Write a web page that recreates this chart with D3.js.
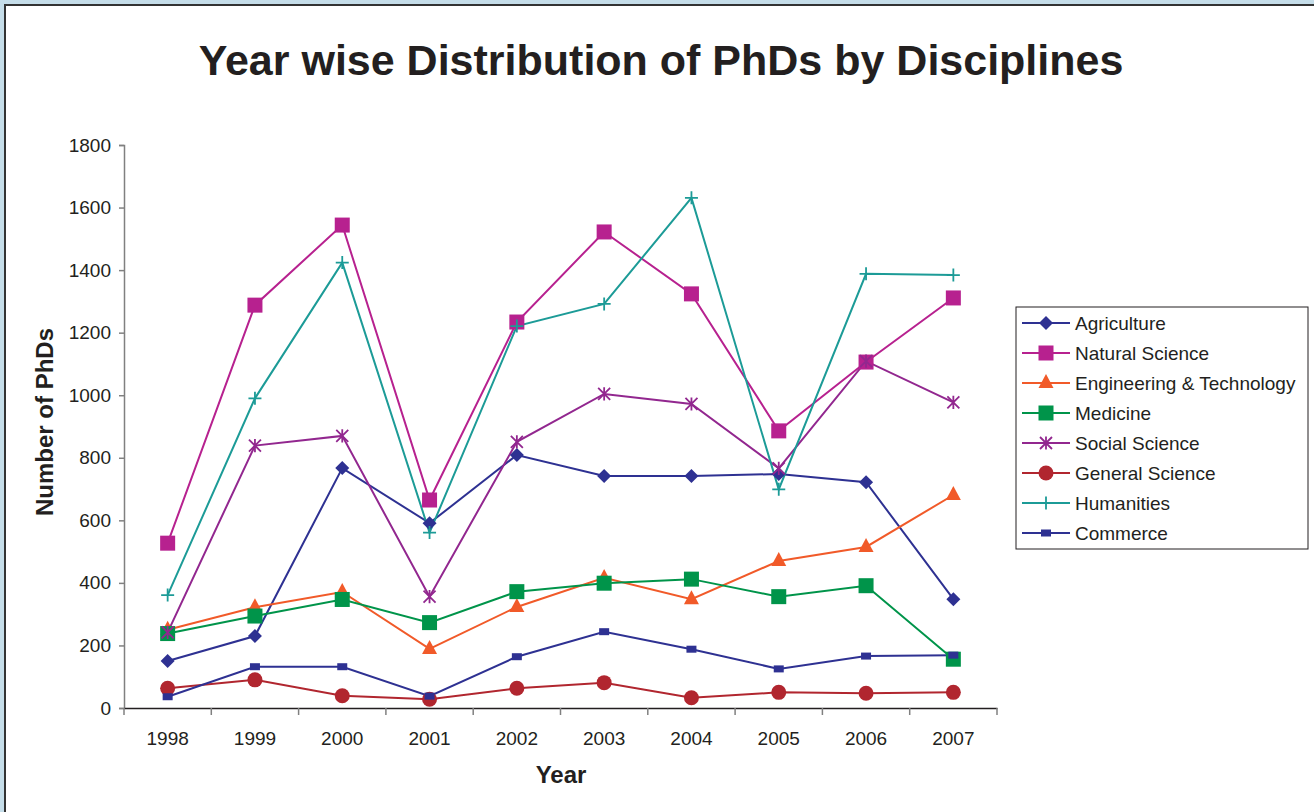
<!DOCTYPE html>
<html><head><meta charset="utf-8">
<script src="https://cdn.jsdelivr.net/npm/d3@7/dist/d3.min.js"></script>
<style>
html,body{margin:0;padding:0;background:#c5dde9;}
svg{display:block;font-family:"Liberation Sans",Arial,sans-serif;}
</style></head>
<body><svg id="c" width="1314" height="812"></svg>
<script>
const years = ["1998","1999","2000","2001","2002","2003","2004","2005","2006","2007"];
const yTicks = [0,200,400,600,800,1000,1200,1400,1600,1800];
const agriculture    = [150,230,767,591,809,742,742,748,722,348];
const naturalScience = [527,1288,1544,665,1234,1522,1324,886,1106,1311];
const engineering    = [250,322,371,189,323,416,348,470,515,681];
const medicine       = [238,294,347,273,372,399,412,356,391,156];
const socialScience  = [242,839,870,356,851,1004,972,766,1109,977];
const generalScience = [63,90,39,28,63,81,33,50,47,50];
const humanities     = [361,990,1424,561,1221,1292,1631,699,1388,1384];
const commerce       = [36,132,132,38,164,244,188,125,166,169];
const seriesNames = ["Agriculture","Natural Science","Engineering & Technology","Medicine","Social Science","General Science","Humanities","Commerce"];

const series = [
  {name:seriesNames[0], values:agriculture,    color:"#2e3192", marker:"diamond"},
  {name:seriesNames[1], values:naturalScience, color:"#b7218f", marker:"square"},
  {name:seriesNames[2], values:engineering,    color:"#f15a29", marker:"triangle"},
  {name:seriesNames[3], values:medicine,       color:"#00944a", marker:"square"},
  {name:seriesNames[4], values:socialScience,  color:"#92278f", marker:"star"},
  {name:seriesNames[5], values:generalScience, color:"#b1262f", marker:"circle"},
  {name:seriesNames[6], values:humanities,     color:"#1c9b97", marker:"plus"},
  {name:seriesNames[7], values:commerce,       color:"#2e3192", marker:"rect"}
];

const svg = d3.select("#c");
// white panel with border
svg.append("rect").attr("x",5).attr("y",5).attr("width",1320).attr("height",820)
  .attr("fill","#fff").attr("stroke","#333").attr("stroke-width",2);

const L=124, R=997, T=145, B=708;
const x = d3.scaleBand().domain(years).range([L,R]);
const y = d3.scaleLinear().domain([0,1800]).range([B,T]);

// title
svg.append("text").attr("x",661).attr("y",75).attr("text-anchor","middle")
  .attr("font-size",43).attr("font-weight","bold").attr("fill","#231f20")
  .text("Year wise Distribution of PhDs by Disciplines");

// y axis
const ya = svg.append("g").attr("transform",`translate(${L},0)`)
  .call(d3.axisLeft(y).tickValues(yTicks).tickSize(5).tickPadding(8).tickFormat(d3.format("d")));
ya.select(".domain").attr("stroke","#808080").attr("stroke-width",1.5);
ya.selectAll(".tick line").attr("stroke","#808080").attr("stroke-width",1.5);
ya.selectAll("text").attr("font-size",19).attr("fill","#231f20").attr("font-family","Liberation Sans, Arial, sans-serif");

// x axis
const xa = svg.append("g").attr("transform",`translate(0,${B})`)
  .call(d3.axisBottom(x).tickSize(0).tickPadding(24));
xa.select(".domain").attr("stroke","#231f20").attr("stroke-width",1.5);
xa.selectAll("text").attr("font-size",19).attr("fill","#231f20").attr("font-family","Liberation Sans, Arial, sans-serif");
// category boundary ticks
const bounds = years.map(d=>x(d)).concat([x(years[years.length-1])+x.bandwidth()]);
svg.append("g").selectAll("line").data(bounds).join("line")
  .attr("x1",d=>d).attr("x2",d=>d).attr("y1",B).attr("y2",B+7)
  .attr("stroke","#808080").attr("stroke-width",1.5);

// axis labels
svg.append("text").attr("x",561).attr("y",783).attr("text-anchor","middle")
  .attr("font-size",24).attr("font-weight","bold").attr("fill","#231f20").text("Year");
svg.append("text").attr("transform","translate(53,422) rotate(-90)").attr("text-anchor","middle")
  .attr("font-size",24).attr("font-weight","bold").attr("fill","#231f20").text("Number of PhDs");

function drawMarker(g, type, color, cx, cy, scale){
  const s = scale||1;
  if(type==="diamond"){
    g.append("path").attr("d",`M${cx},${cy-7*s}L${cx+7*s},${cy}L${cx},${cy+7*s}L${cx-7*s},${cy}Z`).attr("fill",color);
  } else if(type==="square"){
    g.append("rect").attr("x",cx-7.5*s).attr("y",cy-7.5*s).attr("width",15*s).attr("height",15*s).attr("fill",color);
  } else if(type==="triangle"){
    g.append("path").attr("d",`M${cx},${cy-9*s}L${cx+7.5*s},${cy+5*s}L${cx-7.5*s},${cy+5*s}Z`).attr("fill",color);
  } else if(type==="circle"){
    g.append("circle").attr("cx",cx).attr("cy",cy).attr("r",7.5*s).attr("fill",color);
  } else if(type==="rect"){
    g.append("rect").attr("x",cx-5*s).attr("y",cy-3.5*s).attr("width",10*s).attr("height",7*s).attr("fill",color);
  } else if(type==="star"){
    const r=6*s;
    const p=`M${cx-r},${cy-r}L${cx+r},${cy+r}M${cx-r},${cy+r}L${cx+r},${cy-r}M${cx},${cy-r*1.1}L${cx},${cy+r*1.1}`;
    g.append("path").attr("d",p).attr("stroke",color).attr("stroke-width",1.8).attr("fill","none");
  } else if(type==="plus"){
    const r=6.5*s;
    g.append("path").attr("d",`M${cx-r},${cy}L${cx+r},${cy}M${cx},${cy-r}L${cx},${cy+r}`)
      .attr("stroke",color).attr("stroke-width",1.8).attr("fill","none");
  }
}

const line = d3.line().x((d,i)=>x(years[i])+x.bandwidth()/2).y(d=>y(d));
const plot = svg.append("g");
series.forEach(s=>{
  plot.append("path").datum(s.values).attr("d",line).attr("fill","none")
    .attr("stroke",s.color).attr("stroke-width",2);
});
series.forEach(s=>{
  const g = plot.append("g");
  s.values.forEach((v,i)=>drawMarker(g,s.marker,s.color,x(years[i])+x.bandwidth()/2,y(v)));
});

// legend
const lg = svg.append("g");
lg.append("rect").attr("x",1016).attr("y",307).attr("width",292).attr("height",242)
  .attr("fill","#fff").attr("stroke","#231f20").attr("stroke-width",1);
series.forEach((s,i)=>{
  const cy = 323 + i*30;
  lg.append("line").attr("x1",1022).attr("x2",1070).attr("y1",cy).attr("y2",cy)
    .attr("stroke",s.color).attr("stroke-width",2);
  drawMarker(lg,s.marker,s.color,1046,cy);
  lg.append("text").attr("x",1075).attr("y",cy+7).attr("font-size",19).attr("fill","#231f20").text(s.name);
});
</script></body></html>
